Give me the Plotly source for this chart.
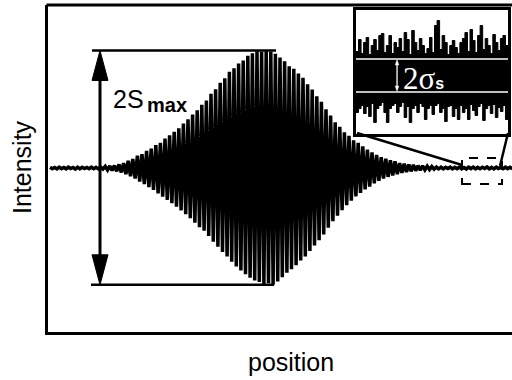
import plotly.graph_objects as go

# ---------------- data ----------------
# interferogram: amplitude of each fringe maximum (upper) and minimum (lower, magnitude)
fringe_upper = [0.8, 0.5, 0.9, 0.6, 0.8, 0.5, 0.9, 0.7, 0.5, 0.8, 0.6,
                1.0, 1.6, 2.1, 2.4, 3.6, 4.8, 7.2, 9.1, 12.3, 13.8,
                17.2, 19.5, 22.9, 25.1, 29.4, 32.6, 36.3, 39.8, 44.5, 48.7,
                53.4, 57.6, 63.2, 67.5, 74.1, 78.6, 85.3, 89.7, 96.2, 99.8,
                104.5, 107.6, 112.3, 114.8, 117.0, 116.2, 117.5, 116.4, 114.2, 110.5,
                106.8, 101.7, 99.3, 94.6, 90.2, 83.7, 78.4, 71.6, 66.3, 58.8,
                52.4, 45.7, 41.2, 35.8, 32.3, 27.6, 25.2, 21.7, 18.3, 15.6,
                13.2, 10.8, 9.3, 7.7, 6.6, 4.9, 4.2, 3.4, 3.1, 2.4,
                2.1, 1.8, 1.4, 1.0, 0.9, 0.6, 0.8, 0.6, 0.9, 0.5,
                0.8, 0.9, 0.6, 0.7, 1.0, 0.6, 0.8, 0.5, 0.8, 0.7]
fringe_lower = [0.7, 0.9, 0.6, 0.8, 0.6, 1.0, 0.8, 0.5, 0.8, 0.7, 0.9,
                1.1, 2.0, 2.6, 3.3, 4.4, 6.1, 8.3, 10.6, 13.5, 16.2,
                19.1, 21.8, 25.3, 28.6, 31.9, 35.2, 38.7, 42.4, 46.1, 50.3,
                54.8, 59.2, 62.7, 67.9, 73.6, 78.8, 84.1, 88.5, 93.7, 98.4,
                102.6, 106.3, 109.7, 112.6, 114.1, 116.3, 115.2, 116.8, 113.4, 109.2,
                104.7, 101.3, 97.2, 92.6, 88.4, 83.1, 77.5, 72.3, 66.4, 59.7,
                53.2, 47.6, 42.3, 37.1, 32.8, 28.4, 24.9, 21.3, 18.6, 15.4,
                12.8, 10.6, 8.9, 7.4, 6.1, 4.8, 3.9, 3.3, 2.7, 2.3,
                1.9, 1.6, 1.2, 0.8, 0.9, 0.6, 0.9, 0.6, 0.8, 1.0,
                0.6, 0.8, 0.7, 0.5, 0.8, 0.9, 0.6, 0.8, 0.6, 0.8]
fringe_start = 2.0
fringe_period = 4.6

# zoomed noise (inset): upper and lower edges of the noise band
inset_upper = [24, 36, 22, 33, 38, 21, 30, 36, 25, 40, 42, 23, 30, 40, 22, 33, 28, 37, 24, 43,
               36, 21, 45, 33, 25, 37, 30, 22, 27, 38, 23, 50, 55, 26, 40, 33, 21, 30, 35, 28,
               22, 33, 37, 43, 24, 46, 35, 23, 40, 50, 26, 37, 30, 22, 41, 33, 25, 37, 40, 30]
inset_lower = [-37, -33, -30, -38, -31, -41, -28, -47, -33, -30, -27, -37, -47, -33, -30, -28, -37, -31, -27, -42,
               -31, -47, -33, -30, -37, -28, -31, -44, -33, -30, -39, -30, -28, -37, -33, -46, -31, -30, -41, -33,
               -44, -30, -37, -33, -44, -29, -35, -40, -31, -28, -45, -33, -30, -38, -29, -42, -32, -36, -30, -44]
inset_sigma = 16.5

# ---------------- layout helpers ----------------
W, H = 512, 380
ML, MR, MT, MB = 48, 0, 5, 48
PW, PH = W - ML - MR, H - MT - MB


def px(p):
    return (p - ML) / PW


def py(p):
    return (H - MB - p) / PH


# build zig-zag signal from fringe extrema
sig_x, sig_y = [], []
for k, (u, l) in enumerate(zip(fringe_upper, fringe_lower)):
    x0 = fringe_start + k * fringe_period
    sig_x += [x0, x0 + fringe_period / 2]
    sig_y += [u, -l]

s_top = max(fringe_upper)
s_bot = -max(fringe_lower)

n_in = len(inset_upper)
in_x = list(range(n_in)) + [n_in]
in_up = inset_upper + [inset_upper[-1]]
in_lo = inset_lower + [inset_lower[-1]]

fig = go.Figure()
fig.add_trace(go.Scatter(x=sig_x, y=sig_y, mode="lines",
                         line=dict(color="black", width=3.5),
                         hoverinfo="skip", showlegend=False))
# inset noise
fig.add_trace(go.Scatter(x=in_x, y=in_up, mode="lines", line_shape="hv",
                         line=dict(color="black", width=1), xaxis="x2", yaxis="y2",
                         hoverinfo="skip", showlegend=False))
fig.add_trace(go.Scatter(x=in_x, y=in_lo, mode="lines", line_shape="hv",
                         line=dict(color="black", width=1), fill="tonexty",
                         fillcolor="black", xaxis="x2", yaxis="y2",
                         hoverinfo="skip", showlegend=False))

shapes = []
LW = 2.5
# S_max reference lines
shapes.append(dict(type="line", xref="x", yref="y", x0=44, x1=228, y0=s_top, y1=s_top,
                   line=dict(color="black", width=LW)))
shapes.append(dict(type="line", xref="x", yref="y", x0=43, x1=226, y0=s_bot, y1=s_bot,
                   line=dict(color="black", width=LW)))
# vertical double arrow
ax_x = 52
shapes.append(dict(type="line", xref="x", yref="y", x0=ax_x, x1=ax_x, y0=s_top - 20, y1=s_bot + 20,
                   line=dict(color="black", width=3)))
shapes.append(dict(type="path", xref="x", yref="y",
                   path=f"M {ax_x} {s_top} L {ax_x - 8} {s_top - 30} L {ax_x + 8} {s_top - 30} Z",
                   fillcolor="black", line=dict(color="black", width=1)))
shapes.append(dict(type="path", xref="x", yref="y",
                   path=f"M {ax_x} {s_bot} L {ax_x - 8} {s_bot + 30} L {ax_x + 8} {s_bot + 30} Z",
                   fillcolor="black", line=dict(color="black", width=1)))
# dashed zoom box
shapes.append(dict(type="rect", xref="x", yref="y", x0=414, x1=454, y0=-16, y1=10,
                   line=dict(color="black", width=2, dash="dash")))
# connector lines
shapes.append(dict(type="line", xref="paper", yref="paper", x0=px(357), y0=py(133),
                   x1=px(462), y1=py(165), line=dict(color="black", width=2.5)))
shapes.append(dict(type="line", xref="paper", yref="paper", x0=px(508), y0=py(133),
                   x1=px(500), y1=py(166), line=dict(color="black", width=2.5)))
# top frame line
shapes.append(dict(type="line", xref="paper", yref="paper", x0=px(46.5), x1=1.01, y0=py(5), y1=py(5),
                   line=dict(color="black", width=3)))
# inset sigma lines (white)
for s in (inset_sigma, -inset_sigma):
    shapes.append(dict(type="line", xref="x2", yref="y2", x0=0, x1=n_in, y0=s, y1=s,
                       line=dict(color="white", width=1.6)))
# white double arrow for 2 sigma
ia_x = 16.2
shapes.append(dict(type="line", xref="x2", yref="y2", x0=ia_x, x1=ia_x,
                   y0=inset_sigma - 3, y1=-inset_sigma + 3,
                   line=dict(color="white", width=1.3)))
shapes.append(dict(type="path", xref="x2", yref="y2",
                   path=f"M {ia_x} {inset_sigma - 0.8} L {ia_x - 0.7} {inset_sigma - 6} "
                        f"L {ia_x + 0.7} {inset_sigma - 6} Z",
                   fillcolor="white", line=dict(color="white", width=0.5)))
shapes.append(dict(type="path", xref="x2", yref="y2",
                   path=f"M {ia_x} {-inset_sigma + 0.8} L {ia_x - 0.7} {-inset_sigma + 6} "
                        f"L {ia_x + 0.7} {-inset_sigma + 6} Z",
                   fillcolor="white", line=dict(color="white", width=0.5)))

annotations = [
    dict(text="Intensity", xref="paper", yref="paper", x=px(22), y=py(167),
         textangle=-90, showarrow=False, xanchor="center", yanchor="middle",
         font=dict(family="Liberation Sans, Arial", size=25, color="black")),
    dict(text="position", xref="paper", yref="paper", x=px(291), y=py(362),
         showarrow=False, xanchor="center", yanchor="middle",
         font=dict(family="Liberation Sans, Arial", size=25, color="black")),
    dict(text="2S", xref="paper", yref="paper", x=px(111), y=py(99),
         showarrow=False, xanchor="left", yanchor="middle",
         font=dict(family="Liberation Sans, Arial", size=25, color="black")),
    dict(text="<b>max</b>", xref="paper", yref="paper", x=px(145), y=py(105),
         showarrow=False, xanchor="left", yanchor="middle",
         font=dict(family="Liberation Sans, Arial", size=20, color="black")),
    dict(text="2σ<span style='font-family:Liberation Sans, Arial;font-size:16px'><b>s</b></span>",
         xref="paper", yref="paper", x=px(401), y=py(78),
         showarrow=False, xanchor="left", yanchor="middle",
         font=dict(family="Liberation Serif, Times New Roman", size=31, color="white")),
]

fig.update_layout(
    width=W, height=H,
    margin=dict(l=ML, r=MR, t=MT, b=MB, pad=0),
    paper_bgcolor="white", plot_bgcolor="white",
    showlegend=False,
    xaxis=dict(range=[0, PW], showgrid=False, zeroline=False, showticklabels=False,
               ticks="", showline=True, linecolor="black", linewidth=3, mirror=False,
               fixedrange=True),
    yaxis=dict(range=[-(H - MB - 168), 168 - MT], showgrid=False, zeroline=False,
               showticklabels=False, ticks="", showline=True, linecolor="black",
               linewidth=3, mirror=False, fixedrange=True),
    xaxis2=dict(domain=[px(356), px(508)], anchor="y2", range=[0, n_in],
                showgrid=False, zeroline=False, showticklabels=False, ticks="",
                showline=True, linecolor="black", linewidth=2.5, mirror=True),
    yaxis2=dict(domain=[py(133.5), py(9.5)], anchor="x2", range=[-58, 66],
                showgrid=False, zeroline=False, showticklabels=False, ticks="",
                showline=True, linecolor="black", linewidth=2.5, mirror=True),
    shapes=shapes,
    annotations=annotations,
)

fig.write_html("out.html", config={"displayModeBar": False},
               post_script="document.body.style.margin='0';document.body.style.overflow='hidden';")
